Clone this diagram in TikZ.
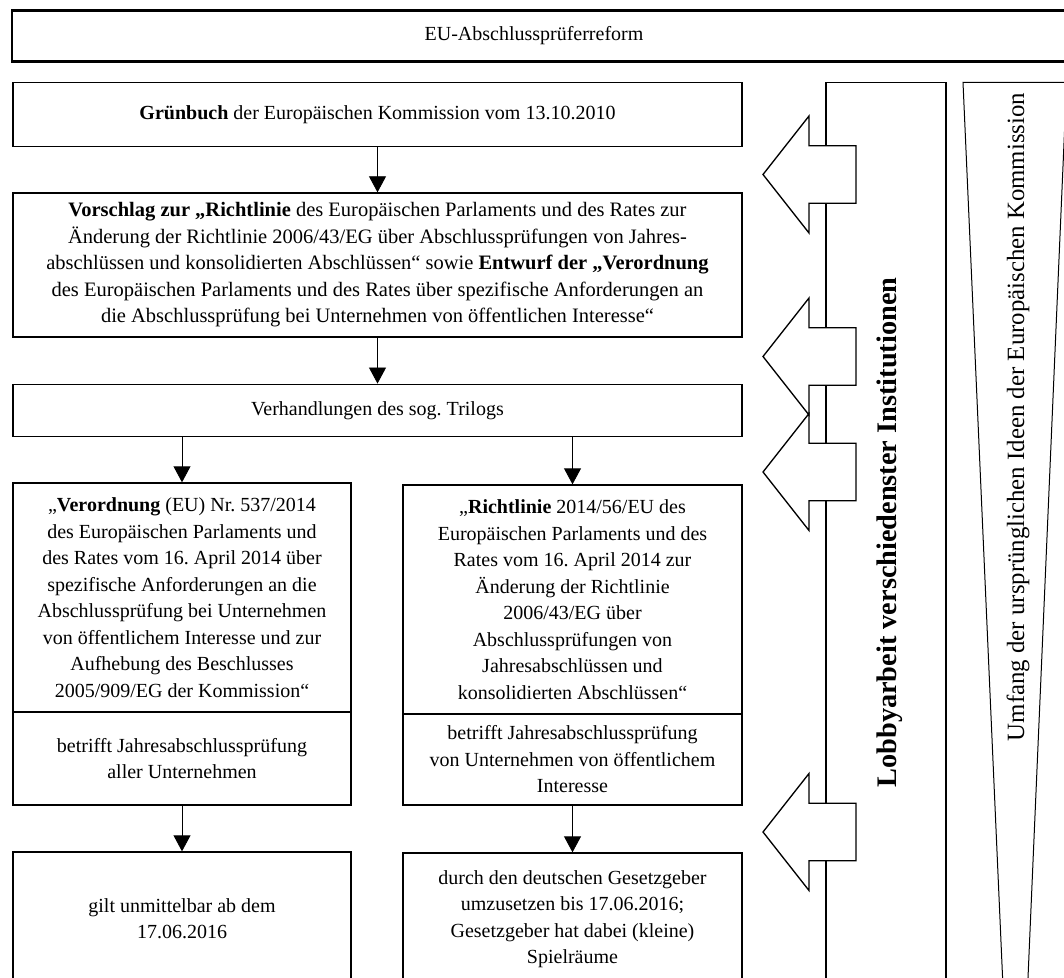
\documentclass[tikz,border=0pt]{standalone}
\usepackage{fontspec}
\setmainfont{Liberation Serif}
\usetikzlibrary{arrows.meta}
\frenchspacing
\begin{document}
\begin{tikzpicture}[x=0.6pt,y=-0.6pt,
  bodyfont/.style={font=\fontsize{12pt}{15.9pt}\selectfont},
  box/.style={draw,line width=0.8pt,rectangle,inner sep=0pt,align=center,bodyfont},
  arr/.style={line width=0.5pt,-{Triangle[width=10.2pt,length=9.6pt]}},
  blockarr/.style={draw,fill=white,line width=0.8pt,line join=miter},
  sideline/.style={line width=0.8pt},
  wedgeline/.style={line width=0.6pt,line join=miter},
]
\useasboundingbox (0,0) rectangle (1064,978);
\clip (0,0) rectangle (1064,978);

% title bar
\draw[line width=1.4pt] (12,10.5) rectangle (1090,61.5);
\node[bodyfont] (title) at (534,36) {EU-Abschlussprüferreform};

% main flow
\node[box,minimum width=437.4pt,minimum height=38.7pt] (gb) at (377.5,114.5)
  {\textbf{Grünbuch} der Europäischen Kommission vom 13.10.2010};
\node[box,minimum width=437.4pt,minimum height=86.4pt,font=\fontsize{12.3pt}{15.9pt}\selectfont] (vs) at (377.5,265)
  {\textbf{Vorschlag zur „Richtlinie} des Europäischen Parlaments und des Rates zur\\
   Änderung der Richtlinie 2006/43/EG über Abschlussprüfungen von Jahres-\\
   abschlüssen und konsolidierten Abschlüssen“ sowie \textbf{Entwurf der „Verordnung}\\
   des Europäischen Parlaments und des Rates über spezifische Anforderungen an\\
   die Abschlussprüfung bei Unternehmen von öffentlichen Interesse“};
\node[box,minimum width=437.4pt,minimum height=31.5pt] (tri) at (377.5,410.5)
  {Verhandlungen des sog. Trilogs};

\node[box,minimum width=202.8pt,minimum height=137.4pt] (vo) at (182,597.5)
  {„\textbf{Verordnung} (EU) Nr. 537/2014\\
   des Europäischen Parlaments und\\
   des Rates vom 16. April 2014 über\\
   spezifische Anforderungen an die\\
   Abschlussprüfung bei Unternehmen\\
   von öffentlichem Interesse und zur\\
   Aufhebung des Beschlusses\\
   2005/909/EG der Kommission“};
\node[box,minimum width=202.8pt,minimum height=55.8pt] (vol) at (182,758.5)
  {betrifft Jahresabschlussprüfung\\aller Unternehmen};
\node[box,minimum width=202.8pt,minimum height=79.8pt] (gil) at (182,918.5)
  {gilt unmittelbar ab dem\\17.06.2016};

\node[box,minimum width=203.4pt,minimum height=137.4pt] (ri) at (572.5,599.5)
  {„\textbf{Richtlinie} 2014/56/EU des\\
   Europäischen Parlaments und des\\
   Rates vom 16. April 2014 zur\\
   Änderung der Richtlinie\\
   2006/43/EG über\\
   Abschlussprüfungen von\\
   Jahresabschlüssen und\\
   konsolidierten Abschlüssen“};
\node[box,minimum width=203.4pt,minimum height=54.6pt] (ril) at (572.5,759.5)
  {betrifft Jahresabschlussprüfung\\von Unternehmen von öffentlichem\\Interesse};
\node[box,minimum width=203.4pt,minimum height=79.2pt] (umz) at (572.5,919)
  {durch den deutschen Gesetzgeber\\umzusetzen bis 17.06.2016;\\Gesetzgeber hat dabei (kleine)\\Spielräume};

% connectors
\draw[arr] (gb) -- (vs);
\draw[arr] (vs) -- (tri);
\draw[arr] (tri.south -| vo.north) -- (vo.north);
\draw[arr] (tri.south -| ri.north) -- (ri.north);
\draw[arr] (vol) -- (gil);
\draw[arr] (ril) -- (umz);

% lobby column
\draw[sideline] (826,1010) -- (826,82.5) -- (946,82.5) -- (946,1010);
\node[rotate=90,font=\fontsize{17pt}{20pt}\selectfont\bfseries] (lobby) at (890,532.5)
  {Lobbyarbeit verschiedenster Institutionen};
\foreach \c in {174.5,356.5,472,832}{
  \draw[blockarr] (856,\c-28.8) -- (809,\c-28.8) -- (809,\c-58.5) -- (763,\c)
    -- (809,\c+58.5) -- (809,\c+28.8) -- (856,\c+28.8) -- cycle;
}

% wedge
\draw[wedgeline] (1004,1010) -- (963,82.5) -- (1066.6,82.5) -- (1026.6,1010);
\node[rotate=90,font=\fontsize{14.9pt}{18pt}\selectfont] (umfang) at (1018,417)
  {Umfang der ursprünglichen Ideen der Europäischen Kommission};
\end{tikzpicture}
\end{document}
